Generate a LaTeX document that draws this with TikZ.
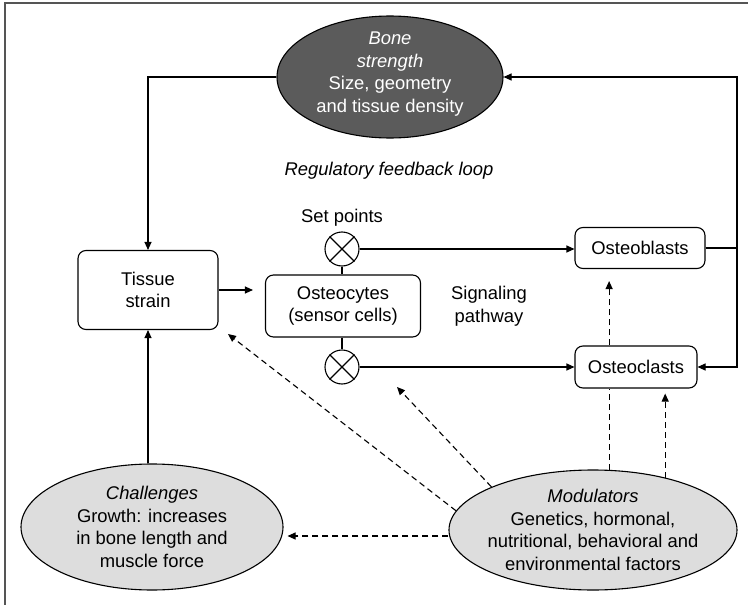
\documentclass[tikz,border=0pt]{standalone}
\usepackage{fontspec}
\setmainfont{Liberation Sans}
\usetikzlibrary{arrows.meta,shapes.geometric}
\definecolor{bonegray}{HTML}{5B5B5B}
\definecolor{softgray}{HTML}{DDDDDD}
\definecolor{framegray}{HTML}{555555}

\begin{document}
\begin{tikzpicture}[x=1pt, y=-1pt,
  every node/.style={font=\fontsize{18.4}{22.5}\selectfont},
  cellbox/.style={draw, rounded corners=8pt, fill=white, line width=1.1pt, inner sep=0pt, align=center},
  oval/.style={draw, ellipse, line width=1.1pt, inner sep=0pt},
  sumpt/.style={draw, circle, minimum size=34pt, inner sep=0pt, line width=1.1pt},
  flow/.style={line width=1.1pt, -{Triangle[length=8pt,width=7pt]}},
  modflow/.style={flow, dash pattern=on 6pt off 4pt}]
\useasboundingbox (0,0) rectangle (748,605);
% Frame
\draw[framegray, line width=2.5pt] (5,605) -- (5,3) -- (748,3);

% Bone strength
\node[oval, fill=bonegray, minimum width=226pt, minimum height=122pt] (bone) at (390,77) {};
\node[text=white, align=center, yshift=3pt] (bonetext) at (bone) {\textit{Bone}\\\textit{strength}\\Size, geometry\\and tissue density};

% Boxes
\node[cellbox, minimum width=140pt, minimum height=79pt] (tissue) at (148,290) {Tissue\\strain};
\node[cellbox, minimum width=155pt, minimum height=62pt] (osteocytes) at (343,306) {Osteocytes\\(sensor cells)};
\node[cellbox, minimum width=130pt, minimum height=41pt] (osteoblasts) at (640,248) {Osteoblasts};
\node[cellbox, minimum width=122pt, minimum height=42pt] (osteoclasts) at (636,367) {Osteoclasts};

% Set points
\node[sumpt] (sp1) at (342,249) {};
\node[sumpt] (sp2) at (342,367) {};
\foreach \s in {sp1,sp2} {
  \draw[line width=1.1pt] (\s.north west) -- (\s.south east) (\s.north east) -- (\s.south west);
}

% Labels
\node (setpts) at (342,218) {Set points};
\node[align=center] (signal) at (489,306) {Signaling\\pathway};
\node (loop) at (389,171) {\textit{Regulatory feedback loop}};

% Challenges and modulators
\node[oval, fill=softgray, minimum width=262pt, minimum height=126pt] (chal) at (152,527) {};
\node[align=center] (chaltext) at (chal) {\textit{Challenges}\\Growth: increases\\in bone length and\\muscle force};
\node[oval, fill=softgray, minimum width=288pt, minimum height=120pt] (mod) at (593,530) {};
\node[align=center] (modtext) at (mod) {\textit{Modulators}\\Genetics, hormonal,\\nutritional, behavioral and\\environmental factors};

\coordinate (rtop) at (737,77);
\coordinate (rbot) at (737,367);
\coordinate (tipA) at (228,334);
\coordinate (tipB) at (397,387);

% Feedback loop
\draw[flow] (bone.west) -| (tissue.north);
\draw[flow] (osteoblasts.east) -| (rtop) -- (bone.east);
\draw[flow] (osteoblasts.east) -| (rbot) -- (osteoclasts.east);
\draw[flow, shorten >=12pt] (tissue.east) -- (tissue.east -| osteocytes.west);
\draw[line width=1.1pt] (sp1.south) -- (sp1.south |- osteocytes.north);
\draw[line width=1.1pt] (osteocytes.south -| sp2.north) -- (sp2.north);
\draw[flow] (sp1.east) -- (sp1.east -| osteoblasts.west);
\draw[flow] (sp2.east) -- (osteoclasts.west);
\draw[flow] (tissue.south |- chal.north) -- (tissue.south);

% Modulator effects
\draw[modflow, shorten >=4pt] ([yshift=-6pt]mod.west) -- ([yshift=-6pt]mod.west -| chal.east);
\draw[modflow] (mod.172) -- (tipA);
\draw[modflow] (mod.157) -- (tipB);
\draw[modflow, -] (mod.75) -- (mod.75 |- osteoclasts.south);
\draw[modflow, shorten >=12pt] (mod.75 |- osteoclasts.north) -- (mod.75 |- osteoblasts.south);
\draw[modflow, shorten >=5pt] (mod.36) -- (mod.36 |- osteoclasts.south);
\end{tikzpicture}
\end{document}
